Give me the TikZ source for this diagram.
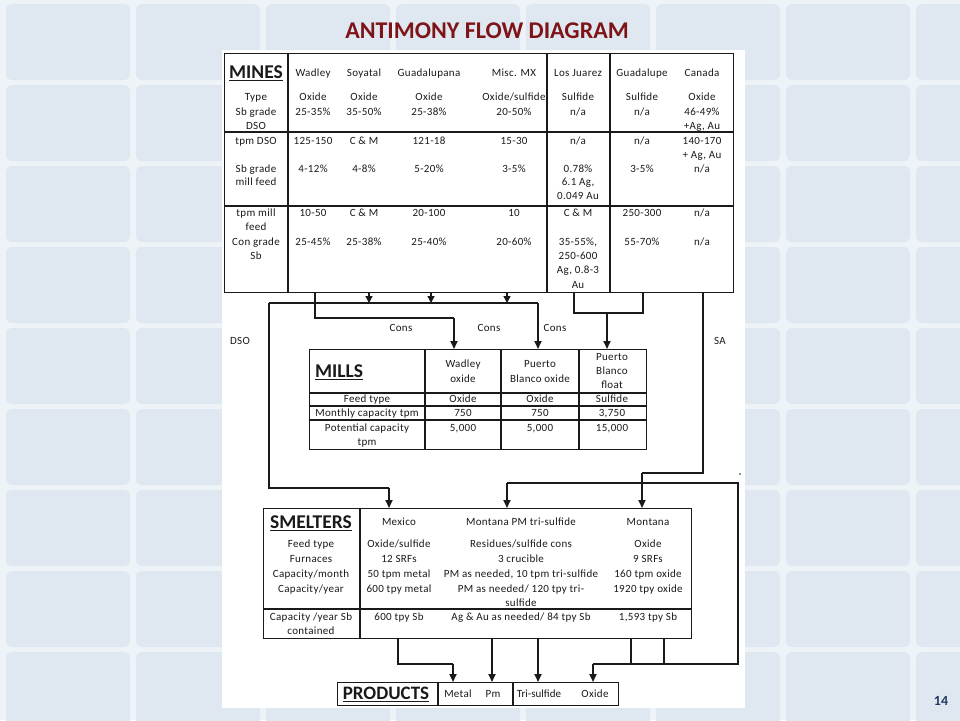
\documentclass[tikz,border=0pt]{standalone}
\usepackage{fontspec}
\setmainfont{Carlito}[LetterSpace=3.0]
\newfontfamily\titlefont{Carlito}
\usetikzlibrary{arrows.meta}
\definecolor{titlered}{HTML}{7E1418}
\definecolor{navy}{HTML}{1F3864}
\definecolor{tilec}{HTML}{DFE8F1}
\definecolor{bgc}{HTML}{EEF3F8}
\definecolor{ink}{HTML}{1A1A1A}
% one text node per line: name, x, centre of first line, line spacing, list of lines
\newcommand\cellrows[5]{%
  \foreach \t [count=\k from 0] in {#5} {\node[tx] (#1-\k) at (#2, {#3+\k*#4+3.6}) {\t};}}
\begin{document}
\begin{tikzpicture}[x=1pt,y=-1pt,
  tbl/.style={draw=ink, line width=1.2pt, fill=white, inner sep=0pt, anchor=north west},
  gridl/.style={draw=ink, line width=1.2pt},
  tx/.style={inner sep=0pt, anchor=base, text=ink, font=\fontsize{11}{13}\selectfont},
  ttl/.style={inner sep=0pt, text=ink, font=\titlefont\bfseries\fontsize{19.5}{22}\selectfont},
  wire/.style={draw=ink, line width=1.2pt},
  flow/.style={draw=ink, line width=1.8pt, -{Triangle[length=8pt,width=7pt]}},
  sflow/.style={draw=ink, line width=1.4pt, -{Triangle[length=7pt,width=7pt]}},
  lbl/.style={inner sep=0pt, text=ink, font=\fontsize{11}{13}\selectfont},
]
\useasboundingbox (0,0) rectangle (960,720);
% background tiles
\fill[bgc] (0,0) rectangle (960,720);
\foreach \i in {0,...,7}
  \foreach \j in {0,...,8}
    \fill[tilec, rounded corners=6pt] (6+130*\i, 4+81*\j) rectangle ++(124,76);
\fill[white] (222,50) rectangle (745,708);

% title and page number
\node[inner sep=0pt, font=\titlefont\bfseries\fontsize{24}{28}\selectfont, text=titlered] (title) at (487,31) {ANTIMONY FLOW DIAGRAM};
\node[inner sep=0pt, font=\titlefont\bfseries\fontsize{14}{16}\selectfont, text=navy] (pagenum) at (941,701) {14};

% ================= MINES =================
\node[tbl, minimum width=509, minimum height=239] (mines) at (224,53) {};
\draw[gridl] (288,53) -- (288,292);
\draw[gridl] (547,53) -- (547,292);
\draw[gridl] (610,53) -- (610,292);
\draw[gridl] (224,132) -- (733,132);
\draw[gridl] (224,206) -- (733,206);

\node[ttl] (minesT) at (256,73) {\underline{MINES}};
\cellrows{mh1}{313}{73}{14}{Wadley}
\cellrows{mh2}{364}{73}{14}{Soyatal}
\cellrows{mh3}{429}{73}{14}{Guadalupana}
\cellrows{mh4}{514}{73}{14}{Misc. MX}
\cellrows{mh5}{578}{73}{14}{Los Juarez}
\cellrows{mh6}{642}{73}{14}{Guadalupe}
\cellrows{mh7}{702}{73}{14}{Canada}

\cellrows{ma0}{256}{97}{14.5}{Type, Sb grade, DSO}
\cellrows{ma1}{313}{97}{14.5}{Oxide, 25-35\%}
\cellrows{ma2}{364}{97}{14.5}{Oxide, 35-50\%}
\cellrows{ma3}{429}{97}{14.5}{Oxide, 25-38\%}
\cellrows{ma4}{514}{97}{14.5}{Oxide/sulfide, 20-50\%}
\cellrows{ma5}{578}{97}{14.5}{Sulfide, n/a}
\cellrows{ma6}{642}{97}{14.5}{Sulfide, n/a}
\cellrows{ma7}{702}{97}{14.5}{Oxide, 46-49\%, {+Ag, Au}}

\cellrows{mb0}{256}{141}{13.7}{tpm DSO, {}, Sb grade, mill feed}
\cellrows{mb1}{313}{141}{13.7}{125-150, {}, 4-12\%}
\cellrows{mb2}{364}{141}{13.7}{C \& M, {}, 4-8\%}
\cellrows{mb3}{429}{141}{13.7}{121-18, {}, 5-20\%}
\cellrows{mb4}{514}{141}{13.7}{15-30, {}, 3-5\%}
\cellrows{mb5}{578}{141}{13.7}{n/a, {}, 0.78\%, {6.1 Ag,}, 0.049 Au}
\cellrows{mb6}{642}{141}{13.7}{n/a, {}, 3-5\%}
\cellrows{mb7}{702}{141}{13.7}{140-170, {+ Ag, Au}, n/a}

\cellrows{mc0}{256}{213}{14.3}{tpm mill, feed, Con grade, Sb}
\cellrows{mc1}{313}{213}{14.3}{10-50, {}, 25-45\%}
\cellrows{mc2}{364}{213}{14.3}{C \& M, {}, 25-38\%}
\cellrows{mc3}{429}{213}{14.3}{20-100, {}, 25-40\%}
\cellrows{mc4}{514}{213}{14.3}{10, {}, 20-60\%}
\cellrows{mc5}{578}{213}{14.3}{C \& M, {}, {35-55\%,}, 250-600, {Ag, 0.8-3}, Au}
\cellrows{mc6}{642}{213}{14.3}{250-300, {}, 55-70\%}
\cellrows{mc7}{702}{213}{14.3}{n/a, {}, n/a}

% ================= MILLS =================
\node[tbl, minimum width=337, minimum height=100] (mills) at (309,349) {};
\draw[gridl] (425,349) -- (425,449);
\draw[gridl] (501,349) -- (501,449);
\draw[gridl] (579,349) -- (579,449);
\draw[gridl] (309,393) -- (646,393);
\draw[gridl] (309,406) -- (646,406);
\draw[gridl] (309,420) -- (646,420);

\node[ttl, anchor=west] (millsT) at (315,372) {\underline{MILLS}};
\cellrows{lh1}{463}{364}{15}{Wadley, oxide}
\cellrows{lh2}{540}{364}{15}{Puerto, Blanco oxide}
\cellrows{lh3}{612}{357}{14}{Puerto, Blanco, float}
\cellrows{la0}{367}{399}{14}{Feed type}
\cellrows{la1}{463}{399}{14}{Oxide}
\cellrows{la2}{540}{399}{14}{Oxide}
\cellrows{la3}{612}{399}{14}{Sulfide}
\cellrows{lb0}{367}{413}{14}{Monthly capacity tpm}
\cellrows{lb1}{463}{413}{14}{750}
\cellrows{lb2}{540}{413}{14}{750}
\cellrows{lb3}{612}{413}{14}{{3,750}}
\cellrows{lc0}{367}{428}{14}{Potential capacity, tpm}
\cellrows{lc1}{463}{428}{14}{{5,000}}
\cellrows{lc2}{540}{428}{14}{{5,000}}
\cellrows{lc3}{612}{428}{14}{{15,000}}

% ================= SMELTERS =================
\node[tbl, minimum width=428, minimum height=130] (smelters) at (263,508) {};
\draw[gridl] (360,508) -- (360,638);
\draw[gridl] (263,609) -- (691,609);

\node[ttl] (smeltT) at (311,523) {\underline{SMELTERS}};
\cellrows{sh1}{399}{522}{14}{Mexico}
\cellrows{sh2}{521}{522}{14}{Montana PM tri-sulfide}
\cellrows{sh3}{648}{522}{14}{Montana}
\cellrows{sa0}{311}{544}{14.8}{Feed type, Furnaces, Capacity/month, Capacity/year}
\cellrows{sa1}{399}{544}{14.8}{Oxide/sulfide, 12 SRFs, 50 tpm metal, 600 tpy metal}
\cellrows{sa2}{521}{544}{14.8}{Residues/sulfide cons, 3 crucible, {PM as needed, 10 tpm tri-sulfide}, PM as needed/ 120 tpy tri-, sulfide}
\cellrows{sa3}{648}{544}{14.8}{Oxide, 9 SRFs, 160 tpm oxide, 1920 tpy oxide}
\cellrows{sb0}{311}{617}{14}{Capacity /year Sb, contained}
\cellrows{sb1}{399}{617}{14}{600 tpy Sb}
\cellrows{sb2}{521}{617}{14}{Ag \& Au as needed/ 84 tpy Sb}
\cellrows{sb3}{648}{617}{14}{{1,593 tpy Sb}}

% ================= PRODUCTS =================
\node[tbl, minimum width=281, minimum height=23] (products) at (337,682) {};
\draw[gridl] (438,682) -- (438,705);
\draw[gridl] (513,682) -- (513,705);
\node[ttl, font=\titlefont\bfseries\fontsize{19}{21}\selectfont] (prodT) at (386,694) {\underline{PRODUCTS}};
\cellrows{p1}{458}{694}{14}{Metal}
\cellrows{p2}{493}{694}{14}{Pm}
\node[tx, font=\titlefont\fontsize{11}{13}\selectfont] (p3-0) at (539,697.6) {Tri-sulfide};
\cellrows{p4}{595}{694}{14}{Oxide}

% ================= labels =================
\node[lbl] (dso) at (240,341) {DSO};
\node[lbl] (sa) at (720,341) {SA};
\node[lbl] (cons1) at (401,328) {Cons};
\node[lbl] (cons2) at (489,328) {Cons};
\node[lbl] (cons3) at (555,328) {Cons};

% ================= connectors =================
\coordinate (mw) at (315,292);
\coordinate (ms1) at (369,292);
\coordinate (ms2) at (431,292);
\coordinate (ms3) at (507,292);
\coordinate (mlj) at (574,292);
\coordinate (mgu) at (643,292);
\coordinate (msa) at (703,292);
% DSO / cons bus
\coordinate (busL) at (269,303);
\coordinate (busR) at (538,303);
\coordinate (b1) at (369,303);
\coordinate (b2) at (431,303);
\coordinate (b3) at (507,303);
\draw[sflow] (ms1) -- (b1);
\draw[sflow] (ms2) -- (b2);
\draw[sflow] (ms3) -- (b3);
\draw[wire] (busL) -- (busR);
% to mills
\coordinate (wcorner) at (454,318);
\coordinate (millWin) at (454,349);
\coordinate (millPBin) at (538,349);
\coordinate (ljg) at (607,313);
\coordinate (millFin) at (607,349);
\draw[wire] (mw) |- (wcorner);
\draw[flow] (wcorner) -- (millWin);
\draw[flow] (busR) -- (millPBin);
\draw[wire] (mlj) |- (ljg) -| (mgu);
\draw[flow] (ljg) -- (millFin);
% DSO to Mexico smelter
\coordinate (dsoC) at (389,488);
\coordinate (smMex) at (389,508);
\draw[wire] (busL) |- (dsoC);
\draw[flow] (dsoC) -- (smMex);
% SA to Montana smelter
\coordinate (saC) at (642,473);
\coordinate (smMon) at (642,508);
\draw[wire] (msa) |- (saC);
\draw[flow] (saC) -- (smMon);
% right loop to Montana PM and Oxide
\coordinate (pmC) at (507,483);
\coordinate (smPM) at (507,508);
\coordinate (rTop) at (738,483);
\coordinate (rBot) at (738,664);
\coordinate (oxC) at (593,664);
\draw[wire] (pmC) -- (rTop) -- (rBot) -- (oxC);
\draw[flow] (pmC) -- (smPM);
\fill[ink] (740,474) circle (0.8);
% smelters to products
\coordinate (s1) at (398,638);
\coordinate (s1c) at (398,664);
\coordinate (metC) at (453,664);
\coordinate (pMet) at (453,682);
\coordinate (s2) at (492,638);
\coordinate (pPm) at (492,682);
\coordinate (s3) at (538,638);
\coordinate (pTri) at (538,682);
\coordinate (s4) at (631,638);
\coordinate (s4c) at (631,664);
\coordinate (s5) at (664,638);
\coordinate (s5c) at (664,664);
\coordinate (pOx) at (593,682);
\draw[wire] (s1) -- (s1c) -- (metC);
\draw[flow] (metC) -- (pMet);
\draw[flow] (s2) -- (pPm);
\draw[flow] (s3) -- (pTri);
\draw[wire] (s4) -- (s4c);
\draw[wire] (s5) -- (s5c);
\draw[flow] (oxC) -- (pOx);
\end{tikzpicture}
\end{document}
